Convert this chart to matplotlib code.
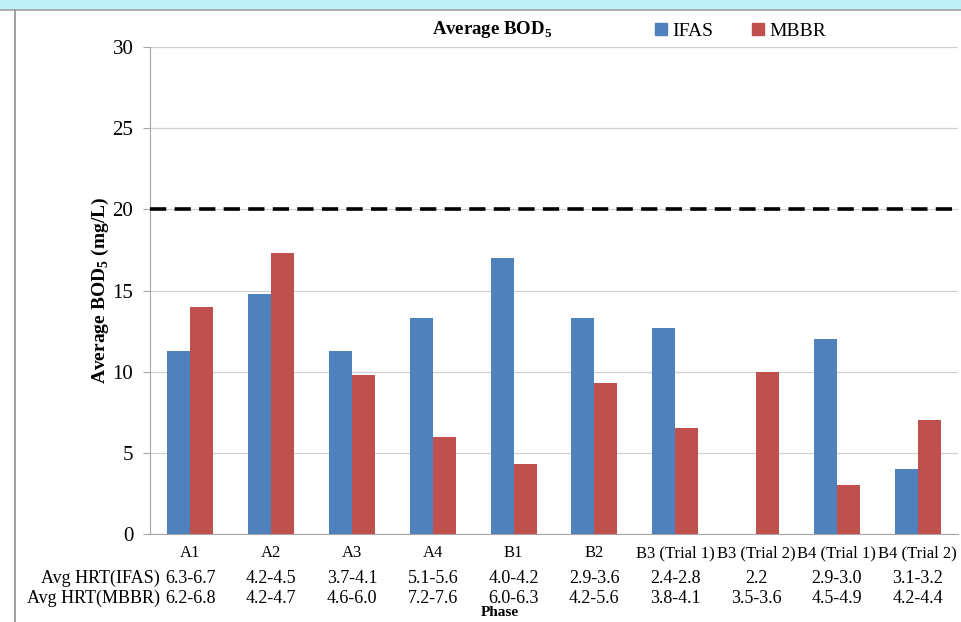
import matplotlib
matplotlib.use('Agg')
import matplotlib.pyplot as plt
import numpy as np
from matplotlib.lines import Line2D
from matplotlib.patches import Rectangle

plt.rcParams['font.family'] = ['Liberation Serif', 'DejaVu Serif']
plt.rcParams['mathtext.fontset'] = 'custom'
plt.rcParams['mathtext.rm'] = 'Liberation Serif'
plt.rcParams['mathtext.bf'] = 'Liberation Serif:bold'

phases = ['A1', 'A2', 'A3', 'A4', 'B1', 'B2', 'B3 (Trial 1)', 'B3 (Trial 2)',
          'B4 (Trial 1)', 'B4 (Trial 2)']
ifas = [11.3, 14.8, 11.3, 13.3, 17.0, 13.3, 12.7, 0.0, 12.0, 4.0]
mbbr = [14.0, 17.3, 9.8, 6.0, 4.3, 9.3, 6.5, 10.0, 3.0, 7.0]
hrt_ifas = ['6.3-6.7', '4.2-4.5', '3.7-4.1', '5.1-5.6', '4.0-4.2', '2.9-3.6',
            '2.4-2.8', '2.2', '2.9-3.0', '3.1-3.2']
hrt_mbbr = ['6.2-6.8', '4.2-4.7', '4.6-6.0', '7.2-7.6', '6.0-6.3', '4.2-5.6',
            '3.8-4.1', '3.5-3.6', '4.5-4.9', '4.2-4.4']
limit = 20

blue = '#4F81BD'
red = '#C0504D'

fig = plt.figure(figsize=(9.61, 6.22), dpi=100)
W, H = 961, 622

# window frame around the chart
fig.patches.append(Rectangle((0, 1 - 9 / H), 1, 9 / H, transform=fig.transFigure,
                             facecolor='#BDEFF4', edgecolor='none'))
fig.lines.append(Line2D([0, 1], [1 - 10 / H] * 2, transform=fig.transFigure,
                        color='#A0A0A0', lw=1.2))
fig.lines.append(Line2D([15 / W] * 2, [0, 1 - 10 / H], transform=fig.transFigure,
                        color='#909090', lw=1.2))

ax = fig.add_axes([150 / W, 1 - 534 / H, 808 / W, 487 / H])

x = np.arange(len(phases))
w = 0.285
ax.bar(x - w / 2, ifas, w, color=blue, label='IFAS', zorder=3)
ax.bar(x + w / 2, mbbr, w, color=red, label='MBBR', zorder=3)

ax.axhline(limit, color='black', lw=2.6, dashes=(4.5, 2.3), zorder=4)

ax.set_xlim(-0.5, len(phases) - 0.5)
ax.set_ylim(0, 30)
ax.set_yticks(np.arange(0, 31, 5))
ax.yaxis.grid(True, color='#D0D0D0', lw=0.9)
ax.set_axisbelow(True)
for s in ['top', 'right']:
    ax.spines[s].set_visible(False)
for s in ['left', 'bottom']:
    ax.spines[s].set_color('#A6A6A6')
ax.tick_params(axis='y', length=5, color='#A6A6A6', pad=7, labelsize=15)
ax.tick_params(axis='x', length=0, pad=8, labelsize=12)
ax.set_xticks(x)
ax.set_xticklabels(phases)

ax.set_ylabel(r'Average BOD$_\mathbf{5}$ (mg/L)', fontsize=14, fontweight='bold',
              labelpad=1)

# HRT rows under the category labels
tr = ax.get_xaxis_transform()
for i in range(len(phases)):
    ax.text(x[i], -0.091, hrt_ifas[i], transform=tr, ha='center', va='center',
            fontsize=13)
    ax.text(x[i], -0.132, hrt_mbbr[i], transform=tr, ha='center', va='center',
            fontsize=13)
ax.text(-0.38, -0.091, 'Avg HRT(IFAS)', transform=tr, ha='right', va='center',
        fontsize=13)
ax.text(-0.38, -0.132, 'Avg HRT(MBBR)', transform=tr, ha='right', va='center',
        fontsize=13)
fig.text(500 / W, 1 - 613 / H, 'Phase', ha='center', va='center',
         fontsize=11, fontweight='bold')

fig.text(492 / W, 1 - 30 / H, r'Average BOD$_\mathbf{5}$', ha='center',
         va='center', fontsize=13.5, fontweight='bold')

handles = [Line2D([], [], marker='s', ls='none', color=blue, markersize=8),
           Line2D([], [], marker='s', ls='none', color=red, markersize=8)]
fig.legend(handles, ['IFAS', 'MBBR'], loc='center left',
           bbox_to_anchor=(645 / W, 1 - 31 / H), ncol=2, frameon=False,
           fontsize=14, handlelength=0.6, handletextpad=0.3, columnspacing=2.0,
           borderpad=0)

fig.savefig('out.png', dpi=100)
